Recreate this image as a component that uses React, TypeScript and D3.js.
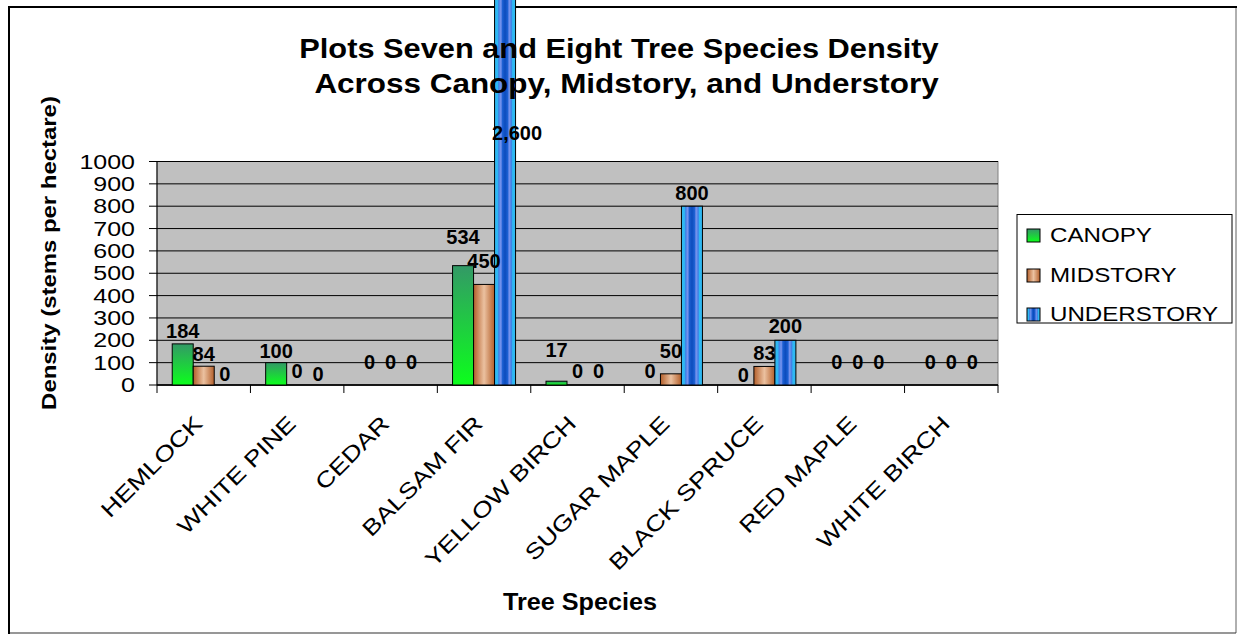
import React from "react";
import * as d3 from "d3";

const categories = ["HEMLOCK", "WHITE PINE", "CEDAR", "BALSAM FIR", "YELLOW BIRCH", "SUGAR MAPLE", "BLACK SPRUCE", "RED MAPLE", "WHITE BIRCH"];
const seriesNames = ["CANOPY", "MIDSTORY", "UNDERSTORY"];
const canopy = [184, 100, 0, 534, 17, 0, 0, 0, 0];
const midstory = [84, 0, 0, 450, 0, 50, 83, 0, 0];
const understory = [0, 0, 0, 2600, 0, 800, 200, 0, 0];
const yTicks = [0, 100, 200, 300, 400, 500, 600, 700, 800, 900, 1000];

// label lift above bar top (px) — manual label placement as in the reference
const canopyLift = [6, 5, 16, 22, 24, 7, 3, 16, 16];
const midstoryLift = [5, 7, 16, 16, 7, 16, 6, 16, 16];
const understoryLift = [4, 4, 16, 0, 7, 6, 7, 16, 16];

const seriesValues = [canopy, midstory, understory];
const seriesLifts = [canopyLift, midstoryLift, understoryLift];
const fills = ["url(#gCanopy)", "url(#gMid)", "url(#gUnder)"];

const FONT = "'Liberation Sans', Arial, Helvetica, sans-serif";

function T({ x, y, sx = 1, rot = 0, anchor = "start", size, bold = false, children }: any) {
  return (
    <text
      transform={`translate(${x},${y}) rotate(${rot}) scale(${sx},1)`}
      textAnchor={anchor}
      fontFamily={FONT}
      fontSize={size}
      fontWeight={bold ? "bold" : "normal"}
      fill="#000"
    >
      {children}
    </text>
  );
}

export default function App() {
  const W = 1238, H = 640;
  const plot = { left: 157, right: 998, top: 161.5, bottom: 385 };
  const x0 = d3.scaleBand<string>().domain(categories).range([plot.left, plot.right]).padding(0);
  const groupW = 63;
  const x1 = d3.scaleBand<string>().domain(seriesNames).range([0, groupW]).padding(0);
  const off = (x0.bandwidth() - groupW) / 2;
  const y = d3.scaleLinear().domain([0, 1000]).range([plot.bottom, plot.top]);
  const fmt = d3.format(",");

  const boundaries = categories.map((c) => x0(c) as number).concat([plot.right]);

  const bars: any[] = [];
  const labels: any[] = [];
  categories.forEach((c, ci) => {
    seriesNames.forEach((s, si) => {
      const v = seriesValues[si][ci];
      const bx = (x0(c) as number) + off + (x1(s) as number);
      const bw = x1.bandwidth();
      const top = y(v);
      if (v > 0) {
        bars.push(
          <rect key={`b${ci}-${si}`} x={bx} y={top} width={bw} height={plot.bottom - top}
            fill={fills[si]} stroke="#000" strokeWidth={1} />
        );
      }
      const cx = bx + bw / 2;
      let ly = top - seriesLifts[si][ci];
      let dx = 0;
      if (top < plot.top) {
        ly = plot.top - 21.5;
        dx = 12;
      }
      labels.push(
        <T key={`l${ci}-${si}`} x={cx + dx} y={ly} anchor="middle" size={20} bold>{fmt(v)}</T>
      );
    });
  });

  return (
    <svg width={W} height={H} style={{ position: "absolute", left: 0, top: 0, background: "#fff" }}>
      <defs>
        <linearGradient id="gCanopy" x1="0" y1="0" x2="0" y2="1">
          <stop offset="0" stopColor="#339966" />
          <stop offset="1" stopColor="#0cff1c" />
        </linearGradient>
        <linearGradient id="gMid" x1="0" y1="0" x2="1" y2="0">
          <stop offset="0" stopColor="#b35f2b" />
          <stop offset="0.5" stopColor="#ebc1a0" />
          <stop offset="1" stopColor="#b35f2b" />
        </linearGradient>
        <linearGradient id="gUnder" x1="0" y1="0" x2="1" y2="0">
          <stop offset="0" stopColor="#2fb8f2" />
          <stop offset="0.14" stopColor="#2fb8f2" />
          <stop offset="0.2" stopColor="#3f7fe6" />
          <stop offset="0.3" stopColor="#7b95ee" />
          <stop offset="0.38" stopColor="#1b5fd2" />
          <stop offset="0.5" stopColor="#0c4cbd" />
          <stop offset="0.62" stopColor="#1b5fd2" />
          <stop offset="0.7" stopColor="#7b95ee" />
          <stop offset="0.8" stopColor="#3f7fe6" />
          <stop offset="0.86" stopColor="#2fb8f2" />
          <stop offset="1" stopColor="#2fb8f2" />
        </linearGradient>
      </defs>

      {/* outer frame */}
      <rect x={9} y={7} width={1227} height={626} fill="#fff" stroke="none" />
      <line x1={1236} x2={1236} y1={7} y2={633} stroke="#606060" strokeWidth={1} />
      <line x1={9} x2={1236} y1={633} y2={633} stroke="#303030" strokeWidth={1.2} />
      <line x1={9} x2={1237} y1={7} y2={7} stroke="#000" strokeWidth={2} />
      <line x1={9} x2={9} y1={6} y2={634} stroke="#000" strokeWidth={2} />

      {/* plot area */}
      <rect x={plot.left} y={plot.top} width={plot.right - plot.left} height={plot.bottom - plot.top} fill="#c0c0c0" stroke="#808080" strokeWidth={1} />
      {yTicks.map((t) => (
        <line key={`g${t}`} x1={plot.left} x2={plot.right} y1={y(t)} y2={y(t)} stroke="#000" strokeWidth={1} />
      ))}

      {/* y axis */}
      <line x1={plot.left} x2={plot.left} y1={plot.top} y2={plot.bottom} stroke="#000" strokeWidth={1} />
      {yTicks.map((t) => (
        <g key={`yt${t}`}>
          <line x1={plot.left - 8} x2={plot.left} y1={y(t)} y2={y(t)} stroke="#000" strokeWidth={1} />
          <T x={135} y={y(t) + 7} anchor="end" size={20} sx={1.25}>{t}</T>
        </g>
      ))}

      {/* x axis */}
      <line x1={plot.left} x2={plot.right} y1={plot.bottom} y2={plot.bottom} stroke="#000" strokeWidth={1.5} />
      {boundaries.map((b, i) => (
        <line key={`xt${i}`} x1={b} x2={b} y1={plot.bottom} y2={plot.bottom + 8} stroke="#000" strokeWidth={1} />
      ))}
      {categories.map((c) => (
        <T key={`xl${c}`} x={(x0(c) as number) + x0.bandwidth() / 2} y={425} rot={-45} anchor="end" size={22} sx={1.22}>{c}</T>
      ))}

      {/* axis titles */}
      <T x={56} y={253} rot={-90} anchor="middle" size={21} sx={1.14} bold>Density (stems per hectare)</T>
      <T x={580} y={610} anchor="middle" size={24} sx={1.05} bold>Tree Species</T>

      {/* legend */}
      <rect x={1017} y={214.5} width={215} height={108.5} fill="#fff" stroke="#000" strokeWidth={1} />
      {seriesNames.map((s, i) => {
        const base = [242, 282, 321][i];
        return (
          <g key={`lg${s}`}>
            <rect x={1027} y={base - 13} width={13} height={13} fill={fills[i]} stroke="#000" strokeWidth={1} />
            <T x={1050} y={base} size={21} sx={1.15}>{s}</T>
          </g>
        );
      })}

      {/* bars (tall bar overruns the frame) */}
      {bars}

      {/* title drawn over the bars */}
      <T x={619} y={58} anchor="middle" size={27} sx={1.14} bold>Plots Seven and Eight Tree Species Density</T>
      <T x={626.5} y={93} anchor="middle" size={27} sx={1.165} bold>Across Canopy, Midstory, and Understory</T>

      {labels}
    </svg>
  );
}
